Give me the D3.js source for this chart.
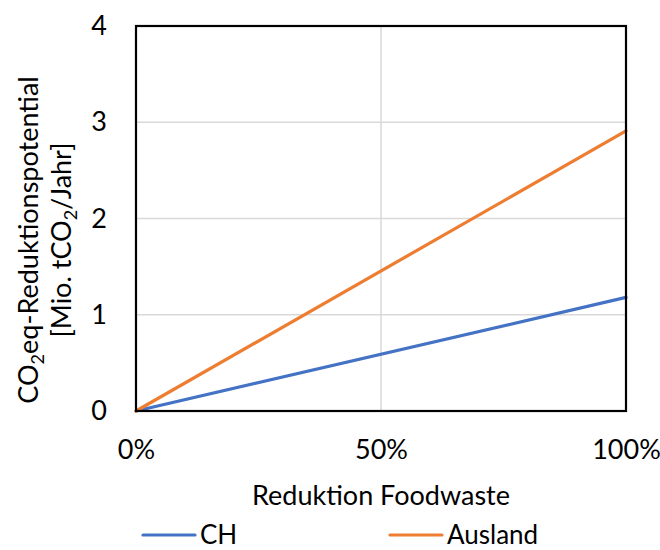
<!DOCTYPE html>
<html>
<head>
<meta charset="utf-8">
<script src="https://cdn.jsdelivr.net/npm/d3@7"></script>
<style>
  body { margin: 0; background: #fff; }
  text { font-family: Lato, "Open Sans", sans-serif; fill: #000; }
</style>
</head>
<body>
<svg id="chart" width="660" height="550"></svg>
<script>
// Reduction share of food waste (x) and resulting CO2eq reduction potential
const reduction = [0, 1];
const seriesNames = ["CH", "Ausland"];
const valuesCH = [0, 1.18];
const valuesAusland = [0, 2.91];
const seriesColors = ["#4472C4", "#ED7D31"];
const yTicks = [0, 1, 2, 3, 4];
const xTicks = [0, 0.5, 1];
const xTickLabels = ["0%", "50%", "100%"];

const FS = 27;
const svg = d3.select("#chart");
const m = { left: 136, right: 626, top: 26, bottom: 411 };

const x = d3.scaleLinear().domain([0, 1]).range([m.left, m.right]);
const y = d3.scaleLinear().domain([0, 4]).range([m.bottom, m.top]);

// gridlines
svg.append("g").selectAll("line").data(yTicks.slice(1)).join("line")
  .attr("x1", m.left).attr("x2", m.right)
  .attr("y1", d => y(d)).attr("y2", d => y(d))
  .attr("stroke", "#d9d9d9").attr("stroke-width", 1.5);
svg.append("g").selectAll("line").data(xTicks.slice(1)).join("line")
  .attr("x1", d => x(d)).attr("x2", d => x(d))
  .attr("y1", m.top).attr("y2", m.bottom)
  .attr("stroke", "#d9d9d9").attr("stroke-width", 1.5);

// series lines
const series = [valuesCH, valuesAusland];
const line = d3.line().x((d, i) => x(reduction[i])).y(d => y(d));
series.forEach((vals, k) => {
  svg.append("path").datum(vals)
    .attr("d", line)
    .attr("fill", "none")
    .attr("stroke", seriesColors[k])
    .attr("stroke-width", 3.2)
    .attr("stroke-linecap", "round");
});

// plot frame
svg.append("rect")
  .attr("x", m.left).attr("y", m.top)
  .attr("width", m.right - m.left).attr("height", m.bottom - m.top)
  .attr("fill", "none").attr("stroke", "#000").attr("stroke-width", 2.2);

// axes (labels only)
const yAxis = d3.axisLeft(y).tickValues(yTicks).tickSize(0).tickPadding(29)
  .tickFormat(d3.format("d"));
const gy = svg.append("g").attr("transform", `translate(${m.left},0)`).call(yAxis);
gy.select(".domain").remove();
gy.selectAll("text").attr("font-size", FS).attr("font-family", "Lato, sans-serif");

const xAxis = d3.axisBottom(x).tickValues(xTicks).tickSize(0).tickPadding(29)
  .tickFormat((d, i) => xTickLabels[i]);
const gx = svg.append("g").attr("transform", `translate(0,${m.bottom})`).call(xAxis);
gx.select(".domain").remove();
gx.selectAll("text").attr("font-size", FS).attr("font-family", "Lato, sans-serif");

// x-axis title
svg.append("text")
  .attr("x", (m.left + m.right) / 2).attr("y", 505)
  .attr("text-anchor", "middle").attr("font-size", FS)
  .text("Reduktion Foodwaste");

// y-axis title (two lines, rotated)
const yt = svg.append("g").attr("transform", "translate(0,240) rotate(-90)");
const t1 = yt.append("text").attr("x", 0).attr("y", 38)
  .attr("text-anchor", "middle").attr("font-size", FS);
t1.append("tspan").text("CO");
t1.append("tspan").text("2").attr("font-size", 18).attr("dy", 6);
t1.append("tspan").text("eq-Reduktionspotential").attr("dy", -6);
const t2 = yt.append("text").attr("x", 0).attr("y", 71)
  .attr("text-anchor", "middle").attr("font-size", FS);
t2.append("tspan").text("[Mio. tCO");
t2.append("tspan").text("2").attr("font-size", 18).attr("dy", 6);
t2.append("tspan").text("/Jahr]").attr("dy", -6);

// legend
const legendX = [143, 390];
seriesNames.forEach((name, k) => {
  const g = svg.append("g").attr("transform", `translate(${legendX[k]},535)`);
  g.append("line").attr("x1", 0).attr("x2", 52).attr("y1", 0).attr("y2", 0)
    .attr("stroke", seriesColors[k]).attr("stroke-width", 3.2)
    .attr("stroke-linecap", "round");
  g.append("text").attr("x", 57).attr("y", 9).attr("font-size", 26).text(name);
});
</script>
</body>
</html>
